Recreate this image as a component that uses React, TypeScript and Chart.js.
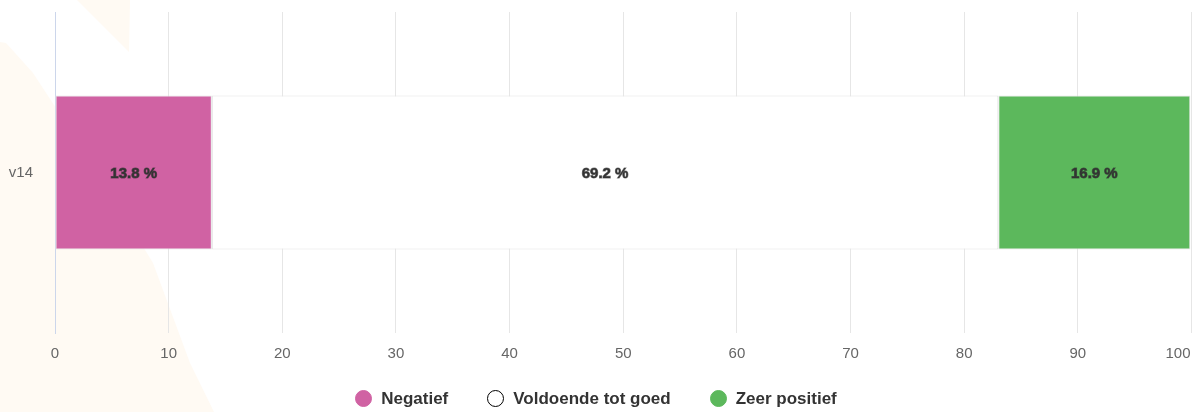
import React, { useEffect, useRef } from "react";
import { Chart, registerables } from "chart.js";

Chart.register(...registerables);

const categories = ["v14"];
const seriesNames = ["Negatief", "Voldoende tot goed", "Zeer positief"];
const negatief = [13.8];
const voldoende = [69.2];
const zeerPositief = [16.9];
const seriesColors = ["#d062a3", "#ffffff", "#5cb85c"];
const legendBorders = ["#d062a3", "#000000", "#5cb85c"];
const xTicksMin = 0;
const xTicksMax = 100;
const xTickStep = 10;

const FONT = "'Liberation Sans', Arial, Helvetica, sans-serif";

const dataLabelsPlugin = {
  id: "dataLabels",
  afterDatasetsDraw(chart: any) {
    const ctx = chart.ctx;
    ctx.save();
    ctx.font = `bold 15px ${FONT}`;
    ctx.textAlign = "center";
    ctx.textBaseline = "middle";
    chart.data.datasets.forEach((ds: any, i: number) => {
      const meta = chart.getDatasetMeta(i);
      meta.data.forEach((el: any, j: number) => {
        const p = el.getProps(["x", "y", "base"], true);
        const cx = (p.x + p.base) / 2;
        const txt = `${ds.data[j]} %`;
        ctx.lineWidth = 1;
        ctx.strokeStyle = "rgba(40,40,40,0.6)";
        ctx.strokeText(txt, cx, p.y + 1);
        ctx.fillStyle = "#333333";
        ctx.fillText(txt, cx, p.y + 1);
      });
    });
    ctx.restore();
  },
};

const xLabelsPlugin = {
  id: "xLabels",
  afterDraw(chart: any) {
    const scale = chart.scales.x;
    const area = chart.chartArea;
    const ctx = chart.ctx;
    ctx.save();
    ctx.font = `15px ${FONT}`;
    ctx.fillStyle = "#666666";
    ctx.textBaseline = "middle";
    ctx.textAlign = "left";
    scale.ticks.forEach((t: any) => {
      const x = scale.getPixelForValue(t.value);
      const label = String(t.value);
      const w = ctx.measureText(label).width;
      let left = x - w / 2;
      if (left + w > area.right - 1) left = area.right - 1 - w;
      ctx.fillText(label, left, area.bottom + 21);
    });
    ctx.restore();
  },
};

export default function App() {
  const canvasRef = useRef<HTMLCanvasElement | null>(null);

  useEffect(() => {
    if (!canvasRef.current) return;
    const values = [negatief, voldoende, zeerPositief];
    const chart = new Chart(canvasRef.current, {
      type: "bar",
      data: {
        labels: categories,
        datasets: seriesNames.map((name, i) => ({
          label: name,
          data: values[i],
          backgroundColor: seriesColors[i],
          borderColor: "#e3e3e3",
          borderWidth: 1,
          borderSkipped: false,
          barPercentage: 0.8,
          categoryPercentage: 0.6,
        })),
      },
      options: {
        indexAxis: "y",
        responsive: false,
        animation: false,
        layout: { padding: { top: 12, right: 7.5, bottom: 79, left: 0 } },
        plugins: {
          legend: { display: false },
          tooltip: { enabled: false },
        },
        scales: {
          x: {
            stacked: true,
            min: xTicksMin,
            max: xTicksMax,
            ticks: { stepSize: xTickStep, display: false },
            grid: {
              color: (c: any) =>
                c.tick && c.tick.value === xTicksMin ? "rgba(0,0,0,0)" : "#e6e6e6",
              lineWidth: 1,
              drawTicks: false,
            },
            border: { display: false },
          },
          y: {
            stacked: true,
            grid: { display: false, drawTicks: false },
            border: { display: true, color: "#ccd6eb", width: 1 },
            ticks: {
              color: "#666666",
              font: { size: 15, family: FONT },
              padding: 22,
            },
            afterFit: (scale: any) => {
              scale.width = 55;
              scale.paddingTop = 0;
              scale.paddingBottom = 0;
            },
          },
        },
      },
      plugins: [dataLabelsPlugin, xLabelsPlugin],
    } as any);
    return () => chart.destroy();
  }, []);

  return (
    <div
      style={{
        position: "fixed",
        left: 0,
        top: 0,
        width: 1199,
        height: 412,
        background: "#ffffff",
        overflow: "hidden",
      }}
    >
      <svg
        width={1199}
        height={412}
        style={{ position: "absolute", left: 0, top: 0 }}
      >
        <polygon points="77,0 130,0 129,52" fill="#fffaf3" />
        <polygon
          points="0,42 6,43 33,73 90,160 153,263 190,363 214,412 0,412"
          fill="#fffaf3"
        />
      </svg>
      <canvas
        ref={canvasRef}
        width={1199}
        height={412}
        style={{ position: "absolute", left: 0, top: 0, width: 1199, height: 412 }}
      />
      <div
        style={{
          position: "absolute",
          left: 0,
          top: 390,
          width: 1192,
          height: 17,
          display: "flex",
          justifyContent: "center",
          alignItems: "center",
          fontFamily: FONT,
          fontWeight: "bold",
          fontSize: 17,
          lineHeight: "17px",
          color: "#333333",
        }}
      >
        {seriesNames.map((name, i) => (
          <div
            key={name}
            style={{
              display: "flex",
              alignItems: "center",
              marginLeft: i === 0 ? 0 : 39,
            }}
          >
            <span
              style={{
                display: "inline-block",
                width: 17,
                height: 17,
                boxSizing: "border-box",
                borderRadius: "50%",
                background: seriesColors[i],
                border: `1.5px solid ${legendBorders[i]}`,
                marginRight: 9,
              }}
            />
            <span>{name}</span>
          </div>
        ))}
      </div>
    </div>
  );
}
